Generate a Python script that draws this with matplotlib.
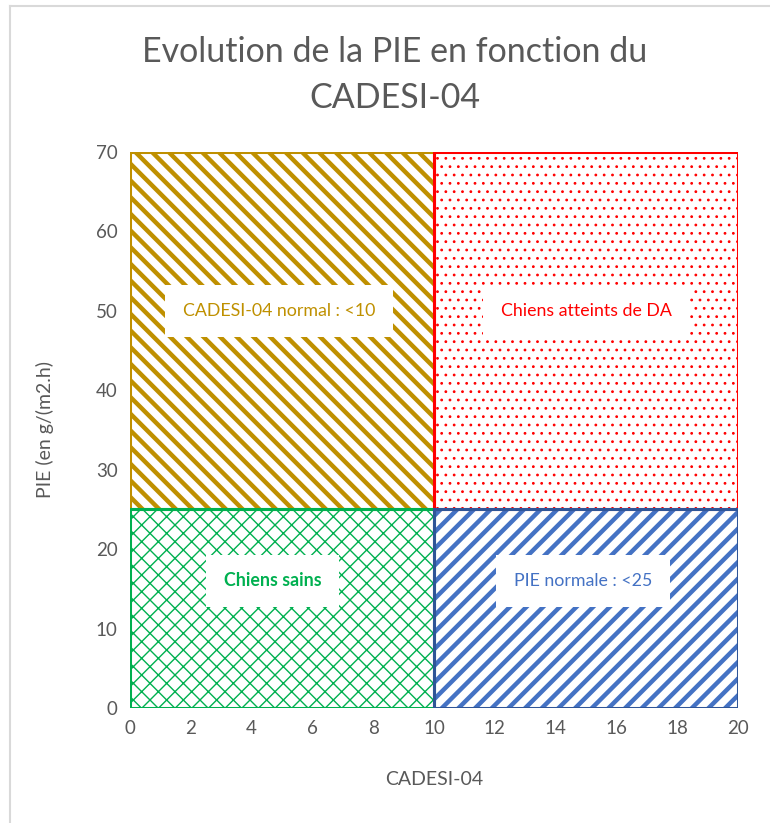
import matplotlib
matplotlib.use("Agg")
import matplotlib.pyplot as plt
from matplotlib.patches import Rectangle
from matplotlib.lines import Line2D

# Data
x_edges = [0, 10, 20]
y_edges = [0, 25, 70]
zones = ["CADESI-04 normal : <10", "Chiens atteints de DA", "Chiens sains", "PIE normale : <25"]
zone_x = [0, 10, 0, 10]       # left edge (CADESI-04)
zone_y = [25, 25, 0, 0]       # bottom edge (PIE)
zone_w = [10, 10, 10, 10]
zone_h = [45, 45, 25, 25]
label_x = [4.9, 15.0, 4.7, 14.9]
label_y = [50, 50, 16, 16]
x_ticks = list(range(0, 21, 2))
y_ticks = list(range(0, 71, 10))

hatch_colors = ["#BF9000", "#FF0000", "#00B050", "#4472C4"]
edge_colors = ["#BF9000", "#FF0000", "#00B050", "#2F5597"]
hatches = ["\\\\", "..", "xx", "//"]
hatch_lw = [3.2, 0.8, 1.0, 3.2]
bold = [False, False, True, False]

plt.rcParams['font.family'] = ['Lato', 'DejaVu Sans']

fig = plt.figure(figsize=(7.7, 8.23), dpi=100)
ax = fig.add_axes([130/770, 1-708/823, 608/770, 556/823])

for i in range(4):
    with plt.rc_context({'hatch.linewidth': hatch_lw[i], 'hatch.color': hatch_colors[i]}):
        r = Rectangle((zone_x[i], zone_y[i]), zone_w[i], zone_h[i], facecolor='white',
                      edgecolor=hatch_colors[i], hatch=hatches[i], linewidth=0, zorder=1)
        if hasattr(r, 'set_hatch_linewidth'):
            r.set_hatch_linewidth(hatch_lw[i])
        ax.add_patch(r)
for i in range(4):
    ax.add_patch(Rectangle((zone_x[i], zone_y[i]), zone_w[i], zone_h[i], fill=False,
                           edgecolor=edge_colors[i], linewidth=2.2, zorder=3))
    ax.text(label_x[i], label_y[i], zones[i], color=hatch_colors[i], fontsize=12.8,
            fontweight='bold' if bold[i] else 'normal', ha='center', va='center', zorder=4,
            bbox=dict(boxstyle='square,pad=1.0', facecolor='white', edgecolor='none'))

ax.set_xlim(x_edges[0], x_edges[-1])
ax.set_ylim(y_edges[0], y_edges[-1])
ax.set_xticks(x_ticks)
ax.set_yticks(y_ticks)
ax.tick_params(length=0, labelsize=13.5, labelcolor='#595959', pad=9)
for s in ax.spines.values():
    s.set_visible(False)

ax.set_xlabel("CADESI-04", fontsize=14, color='#595959', labelpad=24)
ax.set_ylabel("PIE (en g/(m2.h)", fontsize=14, color='#595959', labelpad=30)

fig.text(395/770, 1-52/823, "Evolution de la PIE en fonction du", fontsize=24.5,
         color='#595959', ha='center', va='center')
fig.text(395/770, 1-98/823, "CADESI-04", fontsize=24.5,
         color='#595959', ha='center', va='center')

# chart area border
fig.add_artist(Line2D([9.5/770, 9.5/770], [0, 1-6/823], color='#D9D9D9', lw=1.5, transform=fig.transFigure))
fig.add_artist(Line2D([9.5/770, 1], [1-6/823, 1-6/823], color='#D9D9D9', lw=1.5, transform=fig.transFigure))

fig.savefig("out.png", dpi=100)
